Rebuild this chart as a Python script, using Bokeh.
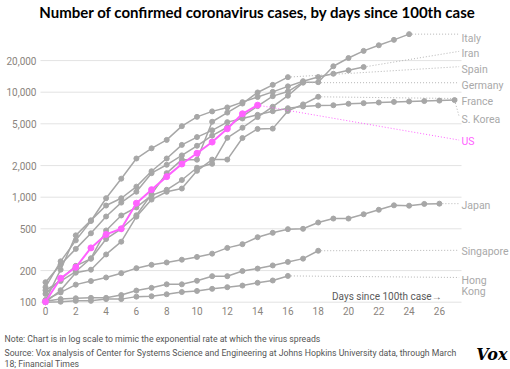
from bokeh.plotting import figure
from bokeh.models import Label, FixedTicker, NumeralTickFormatter, Range1d
from bokeh.embed import file_html
from bokeh.resources import INLINE

# ---- data: cumulative confirmed cases, by days since 100th case ----
italy = [155, 229, 322, 453, 655, 888, 1128, 1694, 2036, 2502, 3089, 3858, 4636,
         5883, 7375, 9172, 10149, 12462, 12462, 17660, 21157, 24747, 27980, 31506, 35713]
iran = [139, 245, 388, 593, 978, 1501, 2336, 2922, 3513, 4747, 5823, 6566, 7161,
        8042, 9000, 10075, 11364, 12729, 13938, 14991, 16169, 17361]
spain = [120, 165, 222, 259, 400, 500, 673, 1073, 1695, 2277, 2277, 5232, 6391,
         7798, 9942, 11748, 13910]
germany = [130, 159, 196, 262, 482, 670, 799, 1040, 1176, 1457, 1908, 2078, 3675,
           4585, 5795, 7272, 9257, 12327]
france = [100, 130, 191, 204, 285, 377, 653, 949, 1126, 1209, 1784, 2281, 2281,
          3661, 4469, 4499, 6633, 7652, 9043]
s_korea = [104, 204, 433, 602, 833, 977, 1261, 1766, 2337, 3150, 3736, 4335, 5186,
           5621, 6088, 6593, 7041, 7314, 7478, 7513, 7755, 7869, 7979, 8086, 8162,
           8236, 8320, 8413]
japan = [105, 124, 147, 159, 172, 189, 211, 227, 239, 254, 270, 290, 329, 357, 416,
         458, 496, 500, 574, 626, 626, 688, 759, 837, 830, 863, 868]
singapore = [102, 107, 109, 110, 110, 117, 129, 137, 148, 148, 160, 177, 177, 198,
             209, 224, 242, 260, 309]
hong_kong = [100, 101, 103, 103, 107, 107, 113, 114, 119, 125, 128, 134, 139, 144,
             153, 161, 178]
us = [101, 169, 215, 329, 442, 500, 877, 1180, 1570, 2070, 2620, 3350, 4480, 6230, 7530]

grey_names = ["Italy", "Iran", "Spain", "Germany", "France", "S. Korea",
              "Japan", "Singapore", "Hong Kong"]
grey_series = [italy, iran, spain, germany, france, s_korea, japan, singapore, hong_kong]

# label placement (in case units) for the right-hand country labels
label_text = ["Italy", "Iran", "Spain", "Germany", "France", "S. Korea",
              "Japan", "Singapore", "Hong\nKong"]
leader_end = [35713, 24500, 17500, 12300, 8700, 5900, 868, 312, 172]
label_pos = [32700, 23200, 16600, 11600, 8100, 5460, 828, 306, 161]
us_leader_end = 3500
us_label_pos = 3415

y_ticks = [100, 200, 500, 1000, 2000, 5000, 10000, 20000]
x_ticks = list(range(0, 27, 2))

GREY = "#a7a7a7"
PINK = "#ff62ff"
LABEL_GREY = "#a9a9a9"
TICK_COL = "#8a847d"
FONT = "Roboto"

# plotting window (data units) and the full-canvas frame
X_LO, X_HI = -0.33, 27.46        # extent of the chart area (grid lines)
Y_LO = 97.0                      # bottom of chart area

W, H = 510, 369
p = figure(width=W, height=H, y_axis_type="log",
           x_range=Range1d(-2.970, 30.693), y_range=Range1d(22.86, 74700),
           output_backend="svg", toolbar_location=None, title=None,
           min_border_left=0, min_border_right=0, min_border_top=0,
           min_border_bottom=0)
p.outline_line_color = None
p.background_fill_color = "white"
p.border_fill_color = "white"
p.xgrid.grid_line_color = None
p.ygrid.grid_line_color = None

# grid lines drawn within the chart area only
p.segment(x0=[X_LO] * len(y_ticks), y0=y_ticks, x1=[X_HI] * len(y_ticks), y1=y_ticks,
          line_color="#e3e3e3", line_width=1)

p.yaxis.ticker = FixedTicker(ticks=y_ticks)
p.yaxis.formatter = NumeralTickFormatter(format="0,0")
p.xaxis.ticker = FixedTicker(ticks=x_ticks)
p.yaxis.fixed_location = X_LO
p.xaxis.fixed_location = Y_LO
for ax in (p.xaxis, p.yaxis):
    ax.axis_line_color = None
    ax.major_tick_line_color = None
    ax.minor_tick_line_color = None
    ax.major_tick_out = 0
    ax.major_tick_in = 0
    ax.major_label_text_color = TICK_COL
    ax.major_label_text_font = FONT
    ax.major_label_text_font_size = "10px"
p.yaxis.major_label_standoff = 4
p.xaxis.major_label_standoff = 3

LX = 27.3    # leader end (days)
TXC = 461    # label start (canvas px)

for name, vals, lt, le, lp in zip(grey_names, grey_series, label_text, leader_end, label_pos):
    xs = list(range(len(vals)))
    p.line([xs[-1], LX], [vals[-1], le], line_color="#b5b5b5", line_width=1,
           line_dash="1 2")
    p.line(xs, vals, line_color=GREY, line_width=1.5)
    p.scatter(xs, vals, size=5, fill_color=GREY, line_color=GREY)
    lines = lt.split("\n")
    for i, t in enumerate(lines):
        yv = lp if i == 0 else lp * 0.78
        p.add_layout(Label(x=TXC, y=yv, x_units="canvas", y_units="data", text=t,
                           text_font=FONT, text_font_size="10.5px",
                           text_color=LABEL_GREY, text_baseline="middle",
                           text_align="left"))

usx = list(range(len(us)))
p.line([usx[-1], LX], [us[-1], us_leader_end], line_color=PINK, line_width=1,
       line_dash="1 2")
p.line(usx, us, line_color=PINK, line_width=2)
p.scatter(usx, us, size=6, fill_color=PINK, line_color=PINK)
p.add_layout(Label(x=TXC, y=us_label_pos, x_units="canvas", y_units="data", text="US",
                   text_font=FONT, text_font_size="10.5px", text_color=PINK,
                   text_baseline="middle", text_align="left"))

p.add_layout(Label(x=26.15, y=113, text="Days since 100th case\u2192", text_font=FONT,
                   text_font_size="10px", text_color="#5a5a5a",
                   text_baseline="middle", text_align="right"))

# title and footer (canvas units, y measured from the top)
p.add_layout(Label(x=257, y=11, x_units="canvas", y_units="canvas",
                   text="Number of confirmed coronavirus cases, by days since 100th case",
                   text_font="Lato", text_font_style="bold", text_font_size="15px",
                   text_color="#000000", text_align="center", text_baseline="middle"))
foot = dict(x_units="canvas", y_units="canvas", text_font=FONT,
            text_font_size="8.7px", text_color="#555555", text_baseline="middle",
            text_align="left")
p.add_layout(Label(x=4, y=338.7, text="Note: Chart is in log scale to mimic the exponential rate at which the virus spreads", **foot))
p.add_layout(Label(x=4, y=352.7, text="Source: Vox analysis of Center for Systems Science and Engineering at Johns Hopkins University data, through March", **foot))
p.add_layout(Label(x=4, y=363.3, text="18; Financial Times", **foot))
p.add_layout(Label(x=507, y=354, x_units="canvas", y_units="canvas", text="Vox",
                   text_font="DejaVu Serif", text_font_style="bold italic",
                   text_font_size="16px", text_color="#000000",
                   text_align="right", text_baseline="middle"))

open("out.html", "w").write(file_html(p, INLINE))
